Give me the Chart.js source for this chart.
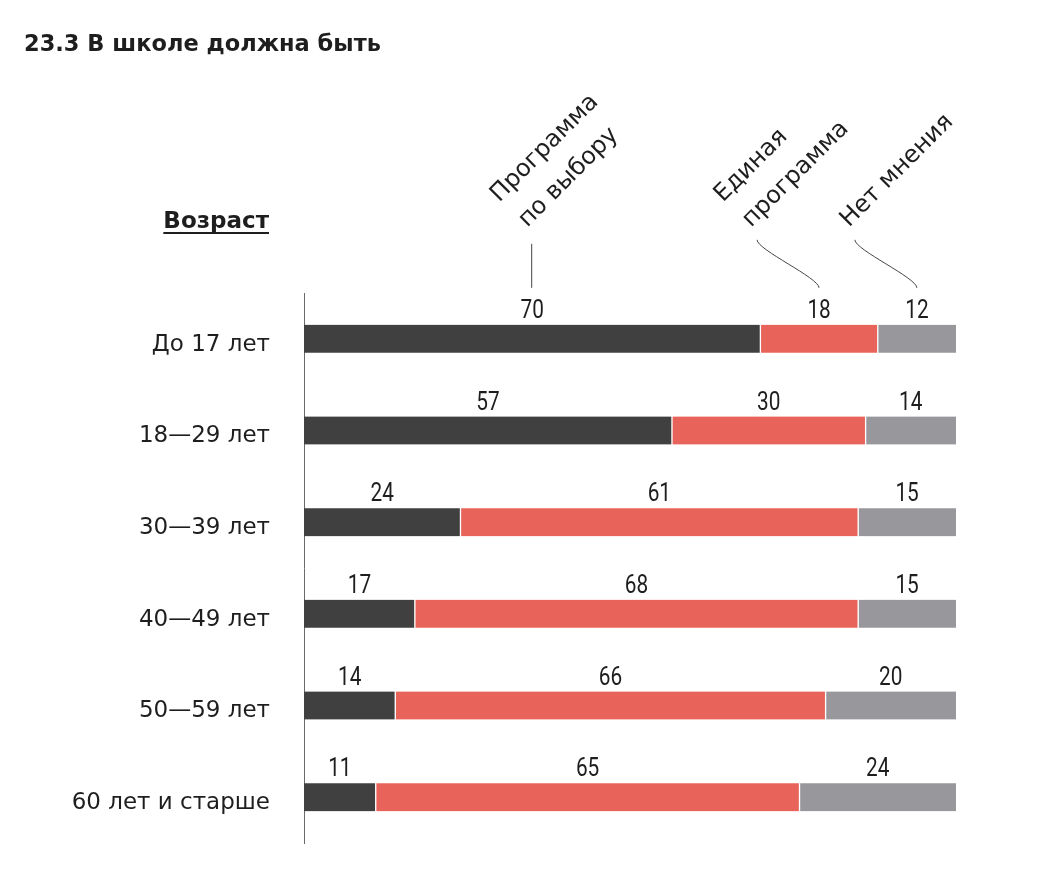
<!DOCTYPE html>
<html><head><meta charset="utf-8">
<script src="https://cdn.jsdelivr.net/npm/chart.js@4.4.1/dist/chart.umd.min.js"></script>
<style>html,body{margin:0;padding:0;background:#fff;}canvas{display:block;}</style>
</head><body><canvas id="c" width="1048" height="873"></canvas>
<script>
// ---- data ----
const title = '23.3 В школе должна быть';
const axisTitle = 'Возраст';
const categories = ['До 17 лет', '18—29 лет', '30—39 лет', '40—49 лет', '50—59 лет', '60 лет и старше'];
const seriesNames = [['Программа', 'по выбору'], ['Единая', 'программа'], ['Нет мнения']];
const choice    = [70, 57, 24, 17, 14, 11];
const unified   = [18, 30, 61, 68, 66, 65];
const noOpinion = [12, 14, 15, 15, 20, 24];
const seriesValues = [choice, unified, noOpinion];
const colors = ['#404040', '#e8645a', '#98989c'];

// rows are drawn as shares of each row's own total
const rowTotals = categories.map((_, i) => seriesValues.reduce((s, arr) => s + arr[i], 0));
const shares = seriesValues.map(arr => arr.map((v, i) => v / rowTotals[i] * 100));

const TEXT = '#1e1e1e';
const borders = [
  {top: 0, bottom: 0, left: 0, right: 1},
  {top: 0, bottom: 0, left: 1, right: 1},
  {top: 0, bottom: 0, left: 1, right: 0}
];

const datasets = seriesValues.map((vals, k) => ({
  label: seriesNames[k].join(' '),
  data: shares[k],
  raw: vals,
  backgroundColor: colors[k],
  borderColor: '#ffffff',
  borderWidth: borders[k],
  borderSkipped: false,
  barThickness: 28
}));

const decorPlugin = {
  id: 'decor',
  afterDraw(chart) {
    const ctx = chart.ctx;
    ctx.save();
    // title
    ctx.fillStyle = TEXT;
    ctx.font = 'bold 22.5px "DejaVu Sans"';
    ctx.textAlign = 'left';
    ctx.textBaseline = 'alphabetic';
    ctx.fillText(title, 24, 51);
    // axis title, underlined
    ctx.font = 'bold 23px "DejaVu Sans"';
    ctx.textAlign = 'right';
    const ax = chart.chartArea.left - 35;
    ctx.fillText(axisTitle, ax, 228);
    const w = ctx.measureText(axisTitle).width;
    ctx.fillRect(ax - w, 232, w, 2);

    // value labels (narrow digits)
    ctx.font = '26px Roboto';
    ctx.textAlign = 'center';
    chart.data.datasets.forEach((ds, k) => {
      const meta = chart.getDatasetMeta(k);
      meta.data.forEach((el, i) => {
        const p = el.getProps(['x', 'y', 'base', 'height'], true);
        ctx.save();
        ctx.translate((p.x + p.base) / 2, p.y - p.height / 2 - 7);
        ctx.scale(0.8, 1);
        ctx.fillText(String(ds.raw[i]), 0, 0);
        ctx.restore();
      });
    });

    // column headers with leader lines (anchored to the first row)
    ctx.font = '24px "DejaVu Sans"';
    ctx.textAlign = 'left';
    ctx.strokeStyle = '#444';
    ctx.lineWidth = 1;
    chart.data.datasets.forEach((ds, k) => {
      const el = chart.getDatasetMeta(k).data[0];
      const p = el.getProps(['x', 'y', 'base', 'height'], true);
      const lx = (p.x + p.base) / 2;
      const ty = p.y - p.height / 2 - 37;
      let dx;
      ctx.beginPath();
      if (k === 0) {
        ctx.moveTo(lx - 0.5, ty - 44);
        ctx.lineTo(lx - 0.5, ty);
        dx = -5;
      } else {
        const sx = lx - 62, sy = ty - 48;
        ctx.moveTo(sx, sy);
        ctx.bezierCurveTo(sx, sy + 10, lx, ty - 10, lx, ty);
        dx = -68;
      }
      ctx.stroke();
      const lines = seriesNames[k];
      lines.forEach((txt, j) => {
        const back = lines.length - 1 - j; // 0 for last line
        ctx.save();
        ctx.translate(lx + dx - back * 28, ty - 60 - back * 25);
        ctx.rotate(-Math.PI / 4);
        ctx.fillText(txt, 0, 0);
        ctx.restore();
      });
    });
    ctx.restore();
  }
};

new Chart(document.getElementById('c'), {
  type: 'bar',
  data: { labels: categories, datasets },
  options: {
    indexAxis: 'y',
    responsive: false,
    animation: false,
    events: [],
    layout: { padding: { left: 0, top: 293, right: 92, bottom: 30 } },
    plugins: { legend: { display: false }, tooltip: { enabled: false }, title: { display: false } },
    scales: {
      x: { stacked: true, min: 0, max: 100, display: false },
      y: {
        stacked: true,
        grid: { display: false, drawTicks: false },
        border: { display: true, color: '#6a6a6a', width: 1 },
        ticks: { padding: 34, labelOffset: 6, color: TEXT, font: { family: 'DejaVu Sans', size: 23 } },
        afterFit(scale) { scale.width = 304; scale.paddingTop = 0; scale.paddingBottom = 0; }
      }
    }
  },
  plugins: [decorPlugin]
});
</script></body></html>
